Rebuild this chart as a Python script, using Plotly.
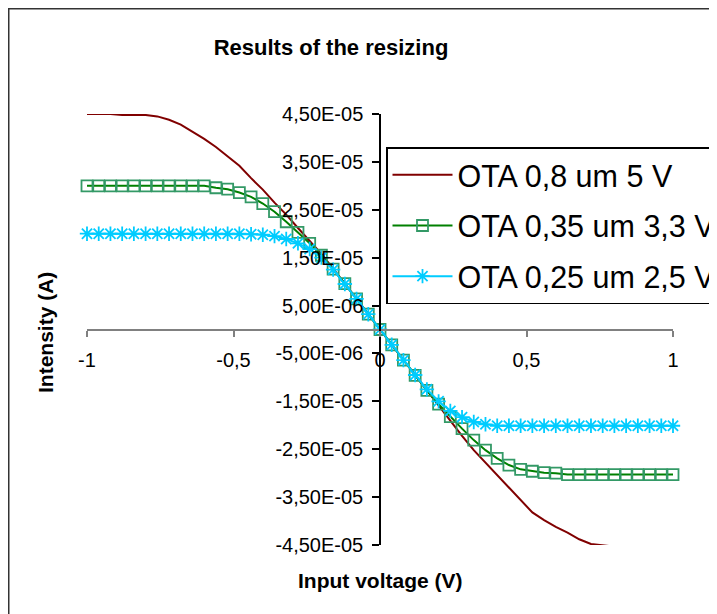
import plotly.graph_objects as go
import numpy as np

# ---------------- data ----------------
x_volts = [-1.00, -0.96, -0.92, -0.88, -0.84, -0.80, -0.76, -0.72, -0.68, -0.64,
           -0.60, -0.56, -0.52, -0.48, -0.44, -0.40, -0.36, -0.32, -0.28, -0.24,
           -0.20, -0.16, -0.12, -0.08, -0.04, 0.00, 0.04, 0.08, 0.12, 0.16,
           0.20, 0.24, 0.28, 0.32, 0.36, 0.40, 0.44, 0.48, 0.52, 0.56,
           0.60, 0.64, 0.68, 0.72, 0.76, 0.80, 0.84, 0.88, 0.92, 0.96, 1.00]

# currents in units of 1E-05 A
ota_08_5v = [4.50, 4.50, 4.50, 4.48, 4.48, 4.48, 4.45, 4.38, 4.28, 4.13,
             3.98, 3.81, 3.62, 3.42, 3.16, 2.92, 2.65, 2.40, 2.12, 1.86,
             1.58, 1.27, 0.96, 0.64, 0.32, 0.00, -0.32, -0.64, -0.96, -1.28,
             -1.60, -1.92, -2.22, -2.52, -2.78, -3.02, -3.30, -3.56, -3.82, -3.98,
             -4.12, -4.24, -4.38, -4.48, -4.51, -4.53, -4.56, -4.56, -4.57, -4.57, -4.57]

ota_035_33v = [3.00, 3.00, 3.00, 3.00, 3.00, 3.00, 3.00, 3.00, 3.00, 3.00,
               3.00, 2.96, 2.93, 2.86, 2.77, 2.63, 2.46, 2.25, 2.03, 1.80,
               1.55, 1.26, 0.96, 0.64, 0.32, 0.00, -0.32, -0.64, -0.96, -1.27,
               -1.56, -1.82, -2.07, -2.31, -2.52, -2.69, -2.83, -2.92, -2.96, -2.99,
               -3.00, -3.03, -3.03, -3.03, -3.03, -3.03, -3.03, -3.03, -3.03, -3.03, -3.03]

ota_025_25v = [2.00, 2.00, 2.00, 2.00, 2.00, 2.00, 2.00, 2.00, 2.00, 2.00,
               2.00, 2.00, 2.00, 2.00, 1.99, 1.98, 1.95, 1.89, 1.80, 1.68,
               1.50, 1.25, 0.95, 0.64, 0.32, 0.00, -0.32, -0.64, -0.95, -1.25,
               -1.50, -1.70, -1.83, -1.93, -1.98, -2.01, -2.01, -2.01, -2.01, -2.01,
               -2.01, -2.01, -2.01, -2.01, -2.01, -2.01, -2.01, -2.01, -2.01, -2.01, -2.01]

series_names = ["OTA 0,8 um 5 V", "OTA 0,35 um 3,3 V", "OTA 0,25 um 2,5 V"]

x_tick_vals = [-1, -0.5, 0, 0.5, 1]
x_tick_text = ["-1", "-0,5", "0", "0,5", "1"]

y_tick_vals = [4.5e-05, 3.5e-05, 2.5e-05, 1.5e-05, 5e-06, -5e-06,
               -1.5e-05, -2.5e-05, -3.5e-05, -4.5e-05]
y_tick_text = ["4,50E-05", "3,50E-05", "2,50E-05", "1,50E-05", "5,00E-06",
               "-5,00E-06", "-1,50E-05", "-2,50E-05", "-3,50E-05", "-4,50E-05"]

title_text = "Results of the resizing"
x_title = "Input voltage (V)"
y_title = "Intensity (A)"

# ---------------- figure ----------------
unit = 1e-05
FONT = "Liberation Sans, Arial, sans-serif"

W, H = 717, 614
OFF = 8  # page body margin
ML, MR, MT, MB = 79, 52, 106, 77
pw = W - ML - MR
ph = H - MT - MB


def px_x(p):  # page pixel -> paper x
    return (p - OFF - ML) / pw


def px_y(p):  # page pixel -> paper y
    return (H - MB - (p - OFF)) / ph


fig = go.Figure()
fig.add_trace(go.Scatter(
    x=x_volts, y=np.array(ota_08_5v) * unit, name=series_names[0],
    mode="lines", line=dict(color="#800000", width=2),
    legendgroup="a", cliponaxis=False))
fig.add_trace(go.Scatter(
    x=x_volts, y=np.array(ota_035_33v) * unit, name=series_names[1],
    mode="lines+markers", line=dict(color="#008000", width=2),
    marker=dict(symbol="square-open", size=11, color="#339966",
                line=dict(width=1.8, color="#339966")),
    legendgroup="b", cliponaxis=False))
fig.add_trace(go.Scatter(
    x=x_volts, y=np.array(ota_025_25v) * unit, name=series_names[2],
    mode="lines+markers", line=dict(color="#00ccff", width=2),
    marker=dict(symbol="asterisk-open", size=12, color="#00ccff",
                line=dict(width=1.8, color="#00ccff")),
    legendgroup="c", cliponaxis=False))

fig.update_layout(
    width=W, height=H,
    margin=dict(l=ML, r=MR, t=MT, b=MB, autoexpand=False),
    paper_bgcolor="white", plot_bgcolor="white",
    font=dict(family=FONT, color="black", size=20),
    title=dict(text="<b>" + title_text + "</b>", x=(331 - OFF) / W,
               y=1 - (47 - OFF) / H,
               xanchor="center", yanchor="middle",
               font=dict(family=FONT, size=22, color="black")),
    xaxis=dict(range=[-1, 1], anchor="free", position=0.5,
               showline=True, linecolor="#808080", linewidth=2,
               ticks="outside", ticklen=6, tickcolor="#808080", tickwidth=2,
               tickvals=x_tick_vals, ticktext=x_tick_text,
               ticklabelstandoff=6,
               showgrid=False, zeroline=False,
               tickfont=dict(family=FONT, size=20, color="black")),
    yaxis=dict(range=[-4.5e-05, 4.5e-05], anchor="free", position=0.5,
               showline=True, linecolor="black", linewidth=1.5,
               ticks="outside", ticklen=7, tickcolor="black", tickwidth=1.5,
               tickvals=y_tick_vals, ticktext=y_tick_text,
               ticklabelstandoff=5,
               showgrid=False, zeroline=False,
               tickfont=dict(family=FONT, size=20, color="black")),
    legend=dict(x=px_x(386), y=px_y(147), xanchor="left", yanchor="top",
                bgcolor="white", bordercolor="black", borderwidth=1.5,
                font=dict(family=FONT, size=30.5, color="black"),
                traceorder="grouped", tracegroupgap=8, itemwidth=60),
    showlegend=True,
)

fig.add_annotation(text="<b>" + x_title + "</b>", xref="paper", yref="paper",
                   x=px_x(380), y=px_y(580), showarrow=False,
                   xanchor="center", yanchor="middle",
                   font=dict(family=FONT, size=21, color="black"))
fig.add_annotation(text="<b>" + y_title + "</b>", xref="paper", yref="paper",
                   x=px_x(45), y=px_y(333), showarrow=False, textangle=-90,
                   xanchor="center", yanchor="middle",
                   font=dict(family=FONT, size=21, color="black"))

# outer chart border
fig.add_shape(type="rect", xref="paper", yref="paper",
              x0=px_x(OFF + 0.5), x1=px_x(760), y0=px_y(660), y1=px_y(OFF + 0.5),
              line=dict(color="#333333", width=2), layer="below")

fig.write_html("out.html")
